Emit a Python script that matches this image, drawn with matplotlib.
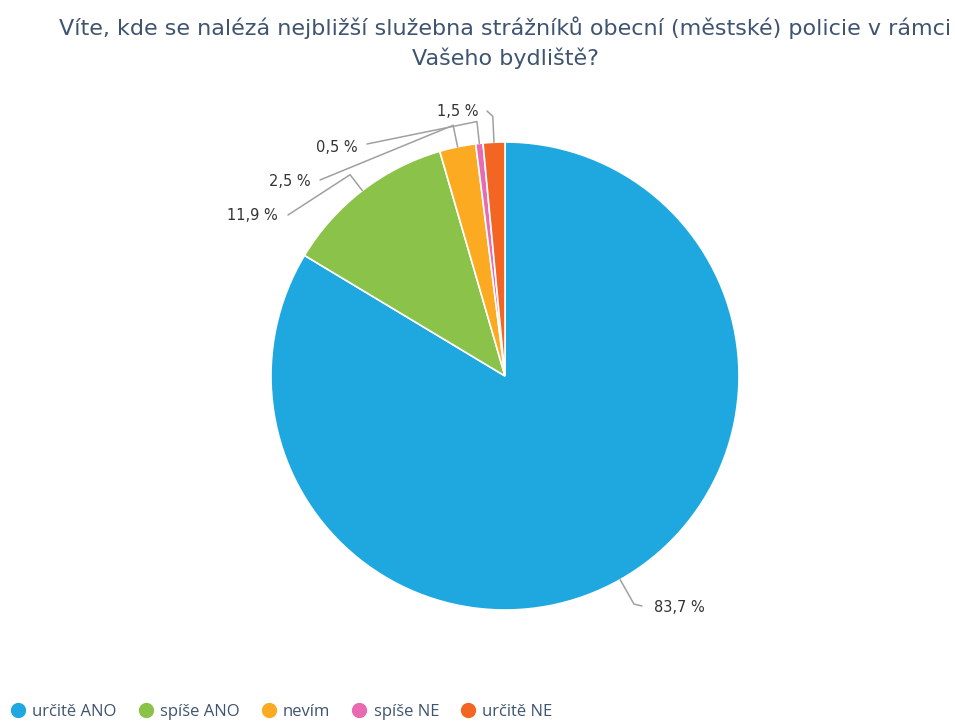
import numpy as np
import matplotlib
matplotlib.use("Agg")
import matplotlib.pyplot as plt

# ── Data ─────────────────────────────────────────────────────────────────
categories = ["určitě ANO", "spíše ANO", "nevím", "spíše NE", "určitě NE"]
values = [83.7, 11.9, 2.5, 0.5, 1.5]
labels = ["83,7 %", "11,9 %", "2,5 %", "0,5 %", "1,5 %"]
colors = ["#1fa8e0", "#8bc34a", "#fbaa22", "#e86ab0", "#f26522"]

TITLE = "Víte, kde se nalézá nejbližší služebna strážníků obecní (městské) policie v rámci\nVašeho bydliště?"
TEXT_COL = "#3e5470"

# layout in pixel space (y measured from top of image)
W, H = 955, 721
CX, CY, R = 505, 376, 234
# text anchor, line start next to the text, elbow radius
label_pos = [(654, 607, "left"), (278, 216, "right"), (311, 182, "right"),
             (358, 147, "right"), (478, 112, "right")]
line_start = [(642, 606), (288, 215), (320, 180), (367, 144), (487, 111)]
elbow_r = [R + 28, R + 20, R + 22, R + 22, R + 26]

fig = plt.figure(figsize=(W / 100, H / 100), dpi=100)
ax = fig.add_axes([0, 0, 1, 1])

wedges, _ = ax.pie(values, colors=colors, startangle=90, counterclock=False,
                   center=(CX, H - CY), radius=R,
                   wedgeprops=dict(edgecolor="white", linewidth=1.2))
# pie() resets the limits, so set them afterwards
ax.set_xlim(0, W)
ax.set_ylim(0, H)
ax.set_aspect("equal")
ax.axis("off")

for w, lab, (tx, ty, ha), (sx, sy), er in zip(wedges, labels, label_pos, line_start, elbow_r):
    ang = np.deg2rad((w.theta1 + w.theta2) / 2)
    ex, ey = CX + R * np.cos(ang), (H - CY) + R * np.sin(ang)
    bx, by = CX + er * np.cos(ang), (H - CY) + er * np.sin(ang)
    ax.plot([sx, bx, ex], [H - sy, by, ey], color="#a0a0a0", lw=1.1,
            solid_joinstyle="round", solid_capstyle="round", zorder=1)
    ax.text(tx, H - ty, lab, ha=ha, va="center", fontsize=10.5,
            color="#333333", family="DejaVu Sans")

fig.text(505 / W, 1 - 43 / H, TITLE, ha="center", va="center", fontsize=16,
         color=TEXT_COL, linespacing=1.5, family="DejaVu Sans")

handles = [plt.Line2D([], [], marker="o", ls="", markersize=10, color=c) for c in colors]
leg = fig.legend(handles, categories, loc="center left", bbox_to_anchor=(8 / W, 1 - 712 / H),
                 ncol=5, frameon=False, handletextpad=0.25, columnspacing=1.15,
                 handlelength=1.2, borderpad=0, borderaxespad=0,
                 prop=dict(family="Open Sans", size=12))
for t in leg.get_texts():
    t.set_color(TEXT_COL)

fig.savefig("out.png", dpi=100)
